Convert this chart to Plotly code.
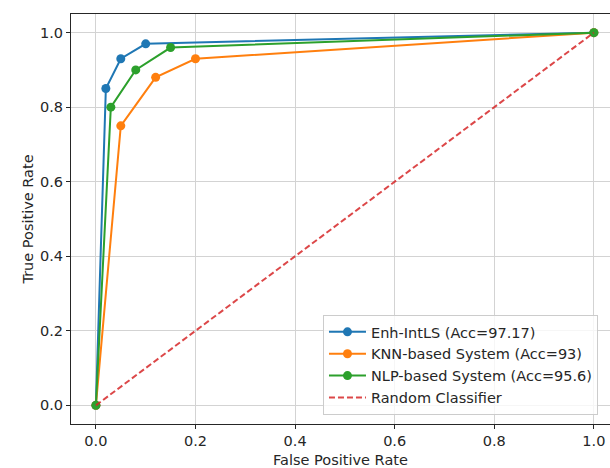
import plotly.graph_objects as go

# ROC data
enh_fpr = [0.0, 0.02, 0.05, 0.10, 1.0]
enh_tpr = [0.0, 0.85, 0.93, 0.97, 1.0]
knn_fpr = [0.0, 0.05, 0.12, 0.20, 1.0]
knn_tpr = [0.0, 0.75, 0.88, 0.93, 1.0]
nlp_fpr = [0.0, 0.03, 0.08, 0.15, 1.0]
nlp_tpr = [0.0, 0.80, 0.90, 0.96, 1.0]
rand_x = [0.0, 1.0]
rand_y = [0.0, 1.0]

names = ["Enh-IntLS (Acc=97.17)", "KNN-based System (Acc=93)",
         "NLP-based System (Acc=95.6)", "Random Classifier"]
colors = ["#1f77b4", "#ff7f0e", "#2ca02c", "rgba(214,39,40,0.85)"]

tick_vals = [0.0, 0.2, 0.4, 0.6, 0.8, 1.0]
tick_text = ["0.0", "0.2", "0.4", "0.6", "0.8", "1.0"]

fig = go.Figure()
for xs, ys, nm, c in [(enh_fpr, enh_tpr, names[0], colors[0]),
                      (knn_fpr, knn_tpr, names[1], colors[1]),
                      (nlp_fpr, nlp_tpr, names[2], colors[2])]:
    fig.add_trace(go.Scatter(x=xs, y=ys, mode="lines+markers", name=nm,
                             line=dict(color=c, width=2),
                             marker=dict(color=c, size=9, line=dict(width=0))))
fig.add_trace(go.Scatter(x=rand_x, y=rand_y, mode="lines", name=names[3],
                         line=dict(color=colors[3], width=2, dash="6px,3px")))

FS = 14.5
font = dict(family="DejaVu Sans", size=FS, color="#262626")
axis_common = dict(showgrid=True, gridcolor="#d3d3d3", gridwidth=1,
                   zeroline=False, showline=True, linecolor="#262626", linewidth=1,
                   ticks="outside", ticklen=4, tickcolor="#262626",
                   tickvals=tick_vals, ticktext=tick_text, tickfont=font)

fig.update_layout(
    width=610, height=468,
    margin=dict(l=71, r=0, t=14, b=44, autoexpand=False),
    plot_bgcolor="white", paper_bgcolor="white",
    font=font,
    showlegend=True,
    legend=dict(x=0.4675, y=0.266, xanchor="left", yanchor="top",
                bgcolor="rgba(255,255,255,0.8)", bordercolor="#cccccc", borderwidth=1,
                font=font, itemwidth=37),
    xaxis=dict(range=[-0.05, 1.0324], mirror=True,
               title=dict(text="False Positive Rate", font=font, standoff=7),
               **axis_common),
    yaxis=dict(range=[-0.05, 1.05],
               title=dict(text="True Positive Rate", font=font, standoff=2),
               **axis_common),
)

fig.write_html("out.html")
